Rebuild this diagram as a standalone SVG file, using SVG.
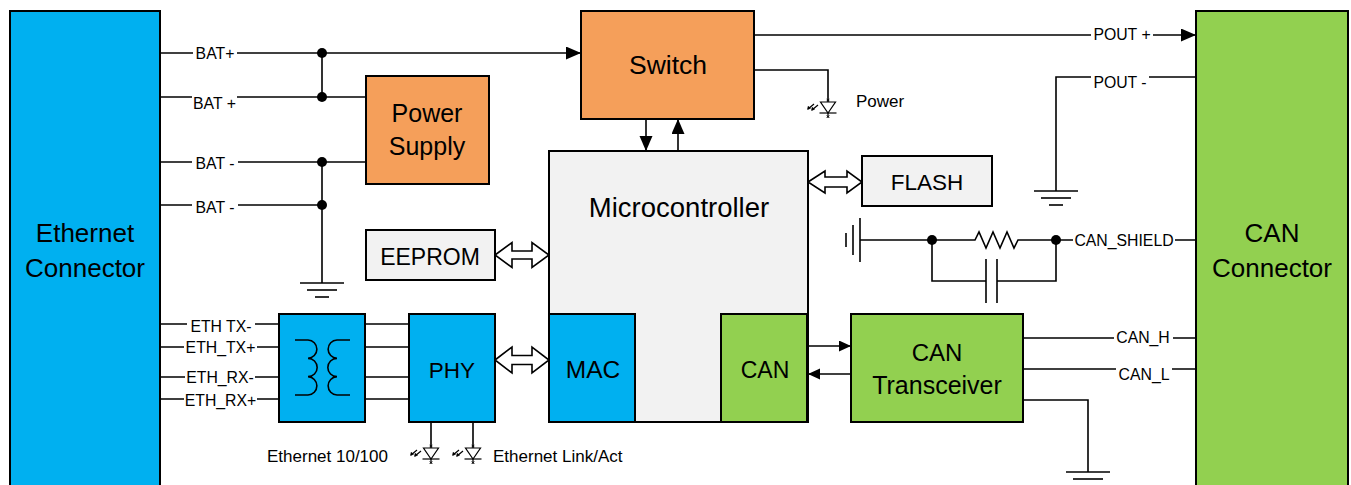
<svg xmlns="http://www.w3.org/2000/svg" xmlns:xlink="http://www.w3.org/1999/xlink" width="1351" height="485" viewBox="0 0 1351 485">
<style>
text{font-family:"Liberation Sans",Arial,sans-serif;fill:#000}
.big{text-anchor:middle}
.lbl{font-size:15.8px;text-anchor:middle}
.sm{font-size:17px}
.box{stroke:#000;stroke-width:2}
.blue{fill:#00B0F0}
.green{fill:#92D050}
.orange{fill:#F59F5A}
.gray{fill:#F2F2F2}
.w{stroke:#000;stroke-width:1.6;fill:none}
.bg{fill:#fff;stroke:none}
.dot{fill:#000}
.dbl{fill:#fff;stroke:#000;stroke-width:1.6}
</style>
<defs>
<marker id="ah" markerUnits="userSpaceOnUse" markerWidth="16" markerHeight="14" refX="15" refY="6.5" orient="auto"><path d="M0,0 L15,6.5 L0,13 z" fill="#000"/></marker>
<marker id="ahs" markerUnits="userSpaceOnUse" markerWidth="13" markerHeight="12" refX="12" refY="5.5" orient="auto"><path d="M0,0 L12,5.5 L0,11 z" fill="#000"/></marker>
<g id="gnd" stroke="#000" stroke-width="1.6"><line x1="-22" y1="0" x2="22" y2="0"/><line x1="-15" y1="7" x2="15" y2="7"/><line x1="-7" y1="14" x2="7" y2="14"/></g>
<g id="led" stroke="#000" stroke-width="1.2" fill="none">
<polygon points="-7.5,0 7.5,0 0,11" fill="#fff"/>
<line x1="-8.5" y1="11" x2="8.5" y2="11"/>
<line x1="0" y1="11" x2="0" y2="16"/>
<path d="M-1.5,-3 l3,2 M1.5,-3 l-3,2 M-1.5,13.5 l3,2 M1.5,13.5 l-3,2" stroke-width="0.7"/>
<path d="M-10,3 l-6,5 M-14,2 l-6,5"/>
<path d="M-16.5,8.5 l0.6,-3.3 l2.5,2 z M-20.5,7.5 l0.6,-3.3 l2.5,2 z" fill="#000" stroke-width="0.5"/>
</g>
</defs>
<rect width="1351" height="485" fill="#fff"/>

<g id="connectors">
<path class="w" d="M160,53 H581" marker-end="url(#ah)"/>
<path class="w" d="M160,97 H366"/>
<path class="w" d="M160,162 H366"/>
<path class="w" d="M160,205 H322"/>
<path class="w" d="M322,53 V97 M322,162 V283"/>
<use xlink:href="#gnd" x="322" y="283"/>
<path class="w" d="M754,35 H1196" marker-end="url(#ah)"/>
<path class="w" d="M754,70 H828 V102"/>
<use xlink:href="#led" x="828" y="102"/>
<path class="w" d="M1196,77 H1056 V191"/>
<use xlink:href="#gnd" x="1056" y="191"/>
<path class="w" d="M646,119 V151" marker-end="url(#ah)"/>
<path class="w" d="M678,151 V119" marker-end="url(#ah)"/>
<polygon class="dbl" points="808,182 825,171 825,177 847,177 847,171 862,182 847,193 847,187 825,187 825,193"/>
<polygon class="dbl" points="495,255 512,242.5 512,251 532,251 532,242.5 549,255 532,267.5 532,259 512,259 512,267.5"/>
<polygon class="dbl" points="495,360 512,347 512,355.5 532,355.5 532,347 549,360 532,373 532,364.5 512,364.5 512,373"/>
<use xlink:href="#gnd" transform="translate(860,240) rotate(90)"/>
<path class="w" d="M860,240 H975 L979,232 L986,248 L993,232 L1000,248 L1007,232 L1014,248 L1018,240 H1196"/>
<path class="w" d="M932,240 V281 H986 M997,281 H1056 V240 M986,259 V303 M997,259 V303"/>
<circle class="dot" cx="932" cy="240" r="5"/>
<circle class="dot" cx="1056" cy="240" r="5"/>
<path class="w" d="M1023,338 H1196 M1023,369 H1196 M1023,400 H1088 V472"/>
<use xlink:href="#gnd" x="1088" y="472"/>
<path class="w" d="M807,346 H851" marker-end="url(#ahs)"/>
<path class="w" d="M851,374 H808" marker-end="url(#ahs)"/>
<path class="w" d="M160,324 H279 M160,347 H279 M160,377 H279 M160,399 H279"/>
<path class="w" d="M365,324 H409 M365,347 H409 M365,377 H409 M365,399 H409"/>
<path class="w" d="M431,422 V448 M473,422 V448"/>
<use xlink:href="#led" x="431" y="448"/>
<use xlink:href="#led" x="473" y="448"/>
<circle class="dot" cx="322" cy="53" r="5"/>
<circle class="dot" cx="322" cy="97" r="5"/>
<circle class="dot" cx="322" cy="162" r="5"/>
<circle class="dot" cx="322" cy="205" r="5"/>
<rect class="bg" x="193" y="46" width="44" height="14"/><text class="lbl" x="215" y="59">BAT+</text>
<rect class="bg" x="192" y="90" width="45" height="14"/><text class="lbl" x="214.5" y="109">BAT +</text>
<rect class="bg" x="192" y="155" width="46" height="14"/><text class="lbl" x="215" y="169">BAT -</text>
<rect class="bg" x="192" y="198" width="46" height="14"/><text class="lbl" x="215" y="213">BAT -</text>
<rect class="bg" x="1091" y="28" width="62" height="14"/><text class="lbl" x="1122" y="40">POUT +</text>
<rect class="bg" x="1091" y="70" width="58" height="14"/><text class="lbl" x="1120" y="88">POUT -</text>
<rect class="bg" x="1073" y="233" width="102" height="14"/><text class="lbl" x="1124" y="246">CAN_SHIELD</text>
<rect class="bg" x="1114" y="331" width="59" height="14"/><text class="lbl" x="1143" y="343">CAN_H</text>
<rect class="bg" x="1116" y="362" width="56" height="14"/><text class="lbl" x="1144" y="380">CAN_L</text>
<rect class="bg" x="187" y="317" width="68" height="14"/><text class="lbl" x="221" y="332">ETH  TX-</text>
<rect class="bg" x="184" y="340" width="73" height="14"/><text class="lbl" x="220.5" y="353">ETH_TX+</text>
<rect class="bg" x="185" y="370" width="70" height="14"/><text class="lbl" x="220" y="383">ETH_RX-</text>
<rect class="bg" x="184" y="392" width="73" height="14"/><text class="lbl" x="220.5" y="406">ETH_RX+</text>
<text class="sm" x="856" y="107">Power</text>
<text class="sm" x="267" y="462">Ethernet 10/100</text>
<text class="sm" x="493" y="462">Ethernet Link/Act</text>
</g>

<g id="ethernet-connector">
<rect class="box blue" x="10" y="11" width="150" height="480"/>
<text class="big" x="85" y="242" style="font-size:26px">Ethernet</text>
<text class="big" x="85" y="277" style="font-size:26px">Connector</text>
</g>
<g id="can-connector">
<rect class="box green" x="1196" y="11" width="152" height="480"/>
<text class="big" x="1272" y="242" style="font-size:26px">CAN</text>
<text class="big" x="1272" y="277" style="font-size:26px">Connector</text>
</g>
<g id="switch">
<rect class="box orange" x="581" y="11" width="173" height="108"/>
<text class="big" x="668" y="74" style="font-size:26.5px">Switch</text>
</g>
<g id="power-supply">
<rect class="box orange" x="366" y="76" width="123" height="108"/>
<text class="big" x="427" y="122" style="font-size:25px">Power</text>
<text class="big" x="427" y="155" style="font-size:25px">Supply</text>
</g>
<g id="eeprom">
<rect class="box gray" x="366" y="230" width="129" height="50"/>
<text class="big" x="430" y="265" style="font-size:23px">EEPROM</text>
</g>
<g id="flash">
<rect class="box gray" x="862" y="156" width="130" height="50"/>
<text class="big" x="927" y="190" style="font-size:22.5px">FLASH</text>
</g>
<g id="microcontroller">
<rect class="box gray" x="549" y="151" width="259" height="271"/>
<text class="big" x="679" y="217" style="font-size:27.5px">Microcontroller</text>
</g>
<g id="mac">
<rect class="box blue" x="549" y="314" width="86" height="108"/>
<text class="big" x="593" y="378" style="font-size:24.5px">MAC</text>
</g>
<g id="can">
<rect class="box green" x="721" y="314" width="86" height="108"/>
<text class="big" x="765" y="378" style="font-size:23px">CAN</text>
</g>
<g id="phy">
<rect class="box blue" x="409" y="314" width="86" height="108"/>
<text class="big" x="452" y="378" style="font-size:22.5px">PHY</text>
</g>
<g id="transformer">
<rect class="box blue" x="279" y="314" width="86" height="108"/>
<path class="w" d="M295,340 H308 A9.17,9.17 0 0 1 308,358.33 A9.17,9.17 0 0 1 308,376.67 A9.17,9.17 0 0 1 308,395 H295"/>
<path class="w" d="M350,340 H337 A9.17,9.17 0 0 0 337,358.33 A9.17,9.17 0 0 0 337,376.67 A9.17,9.17 0 0 0 337,395 H350"/>
</g>
<g id="can-transceiver">
<rect class="box green" x="851" y="314" width="172" height="108"/>
<text class="big" x="937" y="361" style="font-size:24px">CAN</text>
<text class="big" x="937" y="394" style="font-size:25px">Transceiver</text>
</g>
</svg>
